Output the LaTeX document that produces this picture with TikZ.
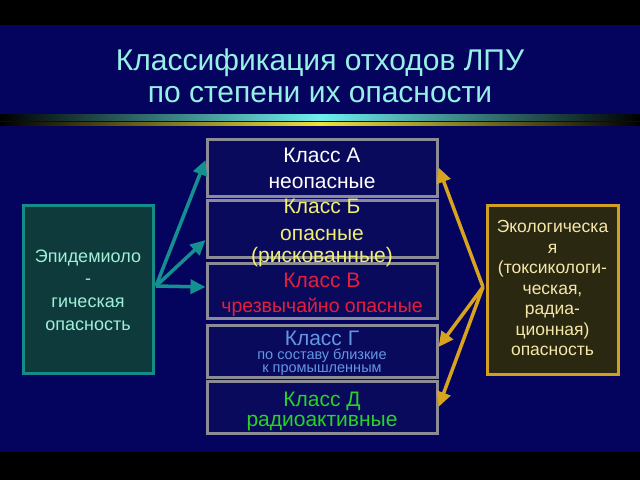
\documentclass[tikz,border=0pt]{standalone}
\usepackage{fontspec}
\setmainfont{Liberation Sans}
\usetikzlibrary{arrows.meta}
\definecolor{bg}{RGB}{4,4,94}
\definecolor{boxfill}{RGB}{10,10,92}
\definecolor{boxgray}{RGB}{140,140,152}
\definecolor{titlecol}{RGB}{150,240,230}
\definecolor{sepcyan}{RGB}{110,240,240}
\definecolor{sepyellow}{RGB}{240,225,60}
\definecolor{epifill}{RGB}{14,58,60}
\definecolor{epidraw}{RGB}{22,140,136}
\definecolor{epitext}{RGB}{160,240,215}
\definecolor{ecofill}{RGB}{42,40,16}
\definecolor{ecodraw}{RGB}{210,160,32}
\definecolor{ecotext}{RGB}{245,230,170}
\definecolor{tealarrow}{RGB}{20,144,144}
\definecolor{goldarrow}{RGB}{216,164,32}
\definecolor{colA}{RGB}{255,255,255}
\definecolor{colB}{RGB}{240,240,110}
\definecolor{colC}{RGB}{230,30,60}
\definecolor{colG}{RGB}{100,150,230}
\definecolor{colD}{RGB}{40,210,40}
\begin{document}
\begin{tikzpicture}[x=1pt,y=-1pt,
  clsbox/.style={draw=boxgray, line width=3pt, fill=boxfill, minimum width=230pt, inner sep=0pt},
  clstext/.style={align=center, inner sep=0pt, font=\fontsize{21}{25}\selectfont},
  sidebox/.style={line width=3pt, minimum width=130pt, minimum height=168pt, inner sep=0pt},
  sidetext/.style={align=center, inner sep=0pt},
  tarrow/.style={draw=tealarrow, line width=3.5pt, -{Triangle[length=15pt,width=14pt]}},
  garrow/.style={draw=goldarrow, line width=3.5pt, -{Triangle[length=15pt,width=14pt]}}
]
\useasboundingbox (0,0) rectangle (640,480);
\fill[black] (0,0) rectangle (640,480);
\fill[bg] (0,25) rectangle (640,452);
\shade[left color=black, right color=black, middle color=sepcyan] (0,114) rectangle (640,120);
\shade[left color=black, right color=black, middle color=sepyellow] (0,122) rectangle (640,125);

\node[align=center, inner sep=0pt, text=titlecol, font=\fontsize{30}{32}\selectfont] (title) at (320,75.5)
  {Классификация отходов ЛПУ\\по степени их опасности};

% class boxes
\node[clsbox, minimum height=57pt] (A) at (322,167.5) {};
\node[clsbox, minimum height=57pt] (B) at (322,228.5) {};
\node[clsbox, minimum height=55pt] (C) at (322,290.5) {};
\node[clsbox, minimum height=52pt] (G) at (322,351) {};
\node[clsbox, minimum height=52pt] (D) at (322,407) {};

\node[clstext, text=colA] (At) at (322,168.4) {Класс А\\[1pt]неопасные};
\node[clstext, text=colB] (Bt) at (322,233) {Класс Б\\[2pt]опасные\\[-3pt](рискованные)};
\node[clstext, text=colC] (Ct) at (322,294.5) {Класс В\\{\fontsize{19.5}{25}\selectfont чрезвычайно опасные}};
\node[clstext, text=colG] (Gt) at (322,352.9) {Класс Г\\[-11pt]{\fontsize{14.5}{13}\selectfont по составу близкие}\\[-12pt]{\fontsize{14.5}{13}\selectfont к промышленным}};
\node[clstext, text=colD] (Dt) at (322,411.7) {Класс Д\\[-5pt]радиоактивные};

% side boxes
\node[sidebox, draw=epidraw, fill=epifill] (epi) at (88,289) {};
\node[sidetext, text=epitext, font=\fontsize{18}{22.7}\selectfont] (epit) at (88,289.9)
  {Эпидемиоло\\-\\гическая\\опасность};
\node[sidebox, draw=ecodraw, fill=ecofill, minimum width=131pt, minimum height=169pt] (eco) at (552.5,289.5) {};
\node[sidetext, text=ecotext, font=\fontsize{17.5}{20.5}\selectfont] (ecot) at (552.5,288.4)
  {Экологическа\\я\\(токсикологи-\\ческая,\\радиа-\\ционная)\\опасность};

% arrows
\coordinate (lo) at (156,286);
\coordinate (ro) at (483,287);
\draw[tarrow] (lo) -- ([yshift=7.5pt]A.west);
\draw[tarrow] (lo) -- ([yshift=-11.5pt]B.west);
\draw[tarrow] (lo) -- ([yshift=3.5pt]C.west);
\draw[garrow] (ro) -- (A.east);
\draw[garrow] (ro) -- ([yshift=4pt]G.east);
\draw[garrow] (ro) -- (D.east);
\end{tikzpicture}
\end{document}
